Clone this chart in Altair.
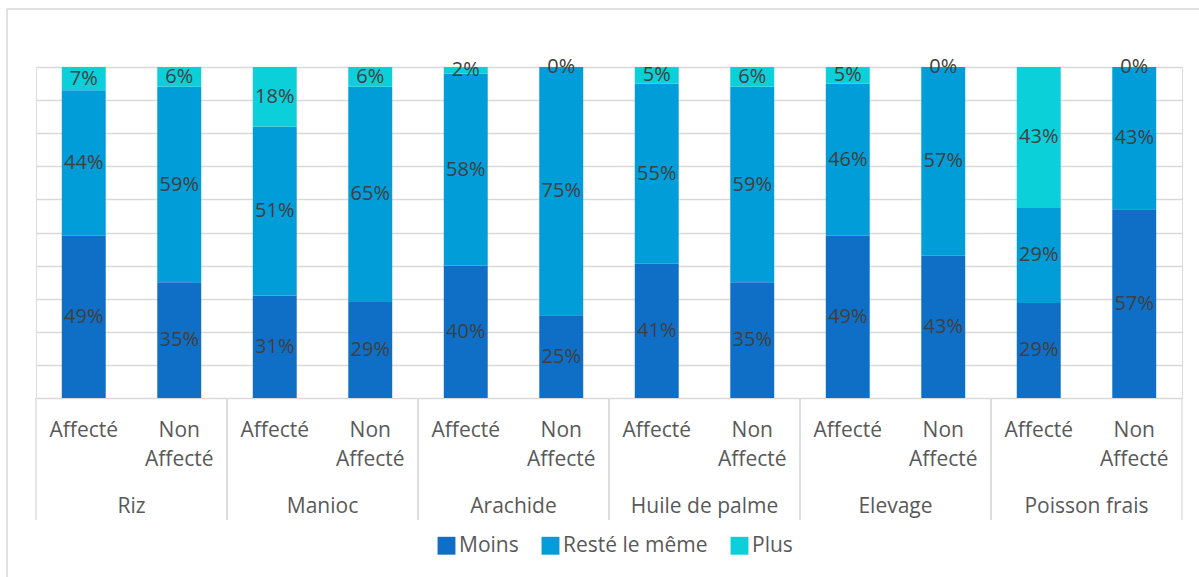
import altair as alt
import pandas as pd

products = ["Riz", "Manioc", "Arachide", "Huile de palme", "Elevage", "Poisson frais"]
groups = ["Affecté", "Non Affecté"]
categories = ["Moins", "Resté le même", "Plus"]
colors = ["#0F6FC6", "#009DD9", "#0BD0D9"]

# values per product, per group: [Affecté, Non Affecté]
moins = {
    "Riz": [49, 35], "Manioc": [31, 29], "Arachide": [40, 25],
    "Huile de palme": [41, 35], "Elevage": [49, 43], "Poisson frais": [29, 57],
}
reste = {
    "Riz": [44, 59], "Manioc": [51, 65], "Arachide": [58, 75],
    "Huile de palme": [55, 59], "Elevage": [46, 57], "Poisson frais": [29, 43],
}
plus = {
    "Riz": [7, 6], "Manioc": [18, 6], "Arachide": [2, 0],
    "Huile de palme": [5, 6], "Elevage": [5, 0], "Poisson frais": [43, 0],
}
grid_values = [0, 0.1, 0.2, 0.3, 0.4, 0.5, 0.6, 0.7, 0.8, 0.9, 1.0]

rows = []
for p in products:
    for gi, g in enumerate(groups):
        for ci, (c, src) in enumerate(zip(categories, [moins, reste, plus])):
            rows.append({"product": p, "group": g, "cat": c, "order": ci, "value": src[p][gi]})
df = pd.DataFrame(rows)

FONT = "Open Sans"
TXT = "#595959"

base = alt.Chart(df)

x_enc = alt.X("product:N", sort=products, axis=None,
              scale=alt.Scale(paddingInner=0, paddingOuter=0))
xo_enc = alt.XOffset("group:N", sort=groups,
                     scale=alt.Scale(paddingInner=0.54, paddingOuter=0.27))
y_axis = alt.Axis(labels=False, ticks=False, domain=False, grid=True,
                  values=grid_values, gridColor="#d9d9d9", gridWidth=1.3, title=None)
y_scale = alt.Scale(domain=[0, 1])

stacked = base.transform_stack(
    stack="value", groupby=["product", "group"], as_=["v0", "v1"],
    offset="normalize", sort=[alt.SortField("order")]
).transform_calculate(
    mid="(datum.v0 + datum.v1) / 2", lbl="datum.value + '%'"
)

bars = stacked.mark_bar().encode(
    x=x_enc, xOffset=xo_enc,
    y=alt.Y("v0:Q", scale=y_scale, axis=y_axis),
    y2="v1:Q",
    color=alt.Color("cat:N", sort=categories,
                    scale=alt.Scale(domain=categories, range=colors),
                    legend=alt.Legend(title=None, orient="none", direction="horizontal",
                                      legendX=400, legendY=468,
                                      labelFont=FONT, labelFontSize=21, labelColor=TXT,
                                      symbolType="square", symbolSize=320,
                                      symbolStrokeWidth=0, labelOffset=2,
                                      columnPadding=21)),
)

labels = stacked.mark_text(font=FONT, fontSize=20, color="#404040", baseline="middle").encode(
    x=x_enc, xOffset=xo_enc, y=alt.Y("mid:Q", scale=y_scale, axis=y_axis), text="lbl:N"
)

one_per_bar = base.transform_filter(alt.datum.cat == "Moins").transform_calculate(
    glabel="datum.group == 'Non Affecté' ? ['Non', 'Affecté'] : 'Affecté'"
)
group_labels = one_per_bar.mark_text(font=FONT, fontSize=21, color=TXT,
                                     baseline="alphabetic", lineHeight=29).encode(
    x=x_enc, xOffset=xo_enc, y=alt.value(370), text="glabel:N"
)

one_per_product = base.transform_filter(
    (alt.datum.cat == "Moins") & (alt.datum.group == "Affecté"))
product_labels = one_per_product.mark_text(font=FONT, fontSize=21, color=TXT,
                                           baseline="alphabetic").encode(
    x=x_enc, y=alt.value(446), text="product:N"
)

sep_left = one_per_product.mark_rule(color="#d9d9d9", strokeWidth=1.3).encode(
    x=alt.X("product:N", sort=products, bandPosition=0, axis=None,
            scale=alt.Scale(paddingInner=0, paddingOuter=0)),
    y=alt.value(331), y2=alt.value(453)
)
sep_right = one_per_product.mark_rule(color="#d9d9d9", strokeWidth=1.3).encode(
    x=alt.X("product:N", sort=products, bandPosition=1, axis=None,
            scale=alt.Scale(paddingInner=0, paddingOuter=0)),
    y=alt.value(331), y2=alt.value(453)
)

one_row = base.transform_filter(
    (alt.datum.cat == "Moins") & (alt.datum.group == "Affecté") & (alt.datum.product == "Riz"))
frame_left = one_row.mark_rule(color="#d9d9d9", strokeWidth=1.5).encode(
    x=alt.value(-29), y=alt.value(-58), y2=alt.value(520)
)
frame_top = one_row.mark_rule(color="#d9d9d9", strokeWidth=1.5).encode(
    x=alt.value(-29), x2=alt.value(1170), y=alt.value(-58)
)

chart = alt.layer(
    bars, labels, group_labels, product_labels, sep_left, sep_right, frame_left, frame_top
).properties(
    width=1146, height=331,
    autosize=alt.AutoSizeParams(type="none"),
    padding={"left": 36, "top": 67, "right": 17, "bottom": 179},
).configure_view(stroke=None).configure(background="white")

chart.save("out.html", embed_options={"renderer": "svg", "actions": False})
